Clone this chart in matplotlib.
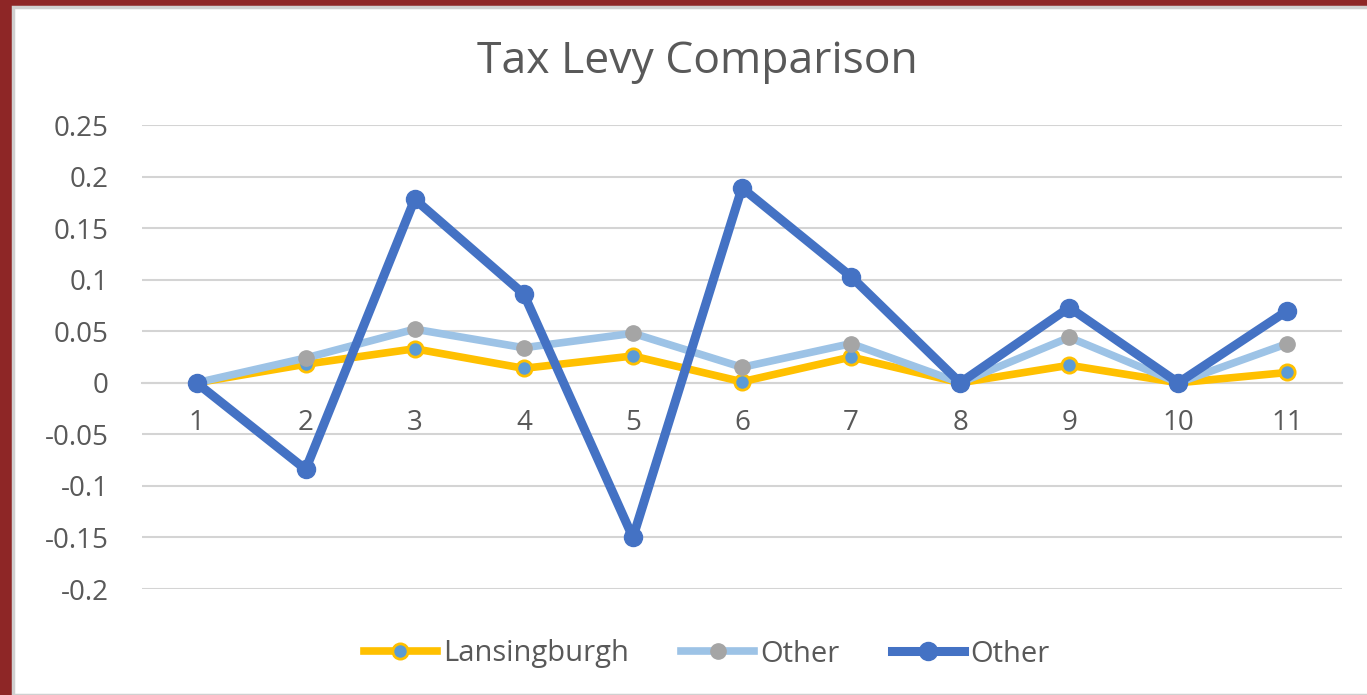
import matplotlib
matplotlib.use('Agg')
import matplotlib.pyplot as plt
import matplotlib.patches as mpatches
import numpy as np

# values
periods = [1, 2, 3, 4, 5, 6, 7, 8, 9, 10, 11]
lansingburgh = [0.0, 0.018, 0.033, 0.014, 0.026, 0.001, 0.025, 0.0, 0.017, 0.0, 0.010]
other_1 = [0.0, 0.024, 0.052, 0.034, 0.048, 0.015, 0.038, 0.0, 0.044, 0.0, 0.038]
other_2 = [0.0, -0.084, 0.178, 0.086, -0.150, 0.189, 0.103, 0.0, 0.073, 0.0, 0.070]
series_names = ['Lansingburgh', 'Other', 'Other']
y_ticks = [-0.2, -0.15, -0.1, -0.05, 0, 0.05, 0.1, 0.15, 0.2, 0.25]
y_labels = ['-0.2', '-0.15', '-0.1', '-0.05', '0', '0.05', '0.1', '0.15', '0.2', '0.25']

plt.rcParams['font.family'] = ['Open Sans', 'DejaVu Sans']
text_grey = '#595959'

fig = plt.figure(figsize=(13.67, 6.95), dpi=100)
fig.patch.set_facecolor('#8E2626')
# white chart card inside the red frame
fig.patches.append(mpatches.Rectangle((13 / 1367, 0), 1, 1 - 7 / 695, transform=fig.transFigure,
                                      facecolor='white', edgecolor='#D0D0D0', linewidth=2.5, zorder=-10))

ax = fig.add_axes([142 / 1367, 1 - 589 / 695, 1200 / 1367, 464 / 695])
ax.set_facecolor('none')

ax.plot(periods, lansingburgh, color='#FFC000', lw=5.5, marker='o', ms=11,
        mfc='#5B9BD5', mec='#FFC000', mew=2, label=series_names[0], zorder=3)
ax.plot(periods, other_1, color='#9DC3E6', lw=5.5, marker='o', ms=11,
        mfc='#A5A5A5', mec='#A5A5A5', mew=1, label=series_names[1], zorder=4)
ax.plot(periods, other_2, color='#4472C4', lw=6.5, marker='o', ms=13,
        mfc='#4472C4', mec='#4472C4', label=series_names[2], zorder=5)

ax.set_xlim(0.5, 11.5)
ax.set_ylim(-0.2, 0.25)
ax.set_yticks(y_ticks)
ax.set_yticklabels(y_labels)
ax.set_xticks(periods)
ax.set_xticklabels([str(p) for p in periods])
ax.grid(axis='y', color='#D4D4D4', lw=1.5, zorder=0)
ax.set_axisbelow(True)

for s in ['top', 'right', 'left']:
    ax.spines[s].set_visible(False)
ax.spines['bottom'].set_position(('data', 0))
ax.spines['bottom'].set_color('#D4D4D4')
ax.spines['bottom'].set_linewidth(1.5)
ax.tick_params(axis='y', length=0, pad=24, labelsize=20, labelcolor=text_grey)
ax.tick_params(axis='x', length=0, pad=19, labelsize=20, labelcolor=text_grey)

fig.text(0.51, 1 - 62 / 695, 'Tax Levy Comparison', ha='center', va='center',
         fontsize=32, color=text_grey)

fig.legend(loc='center', bbox_to_anchor=(0.517, 1 - 654 / 695), ncol=3, frameon=False,
           fontsize=21, labelcolor=text_grey, handlelength=2.5, handletextpad=0.2,
           columnspacing=1.8)

fig.savefig('out.png', dpi=100)
